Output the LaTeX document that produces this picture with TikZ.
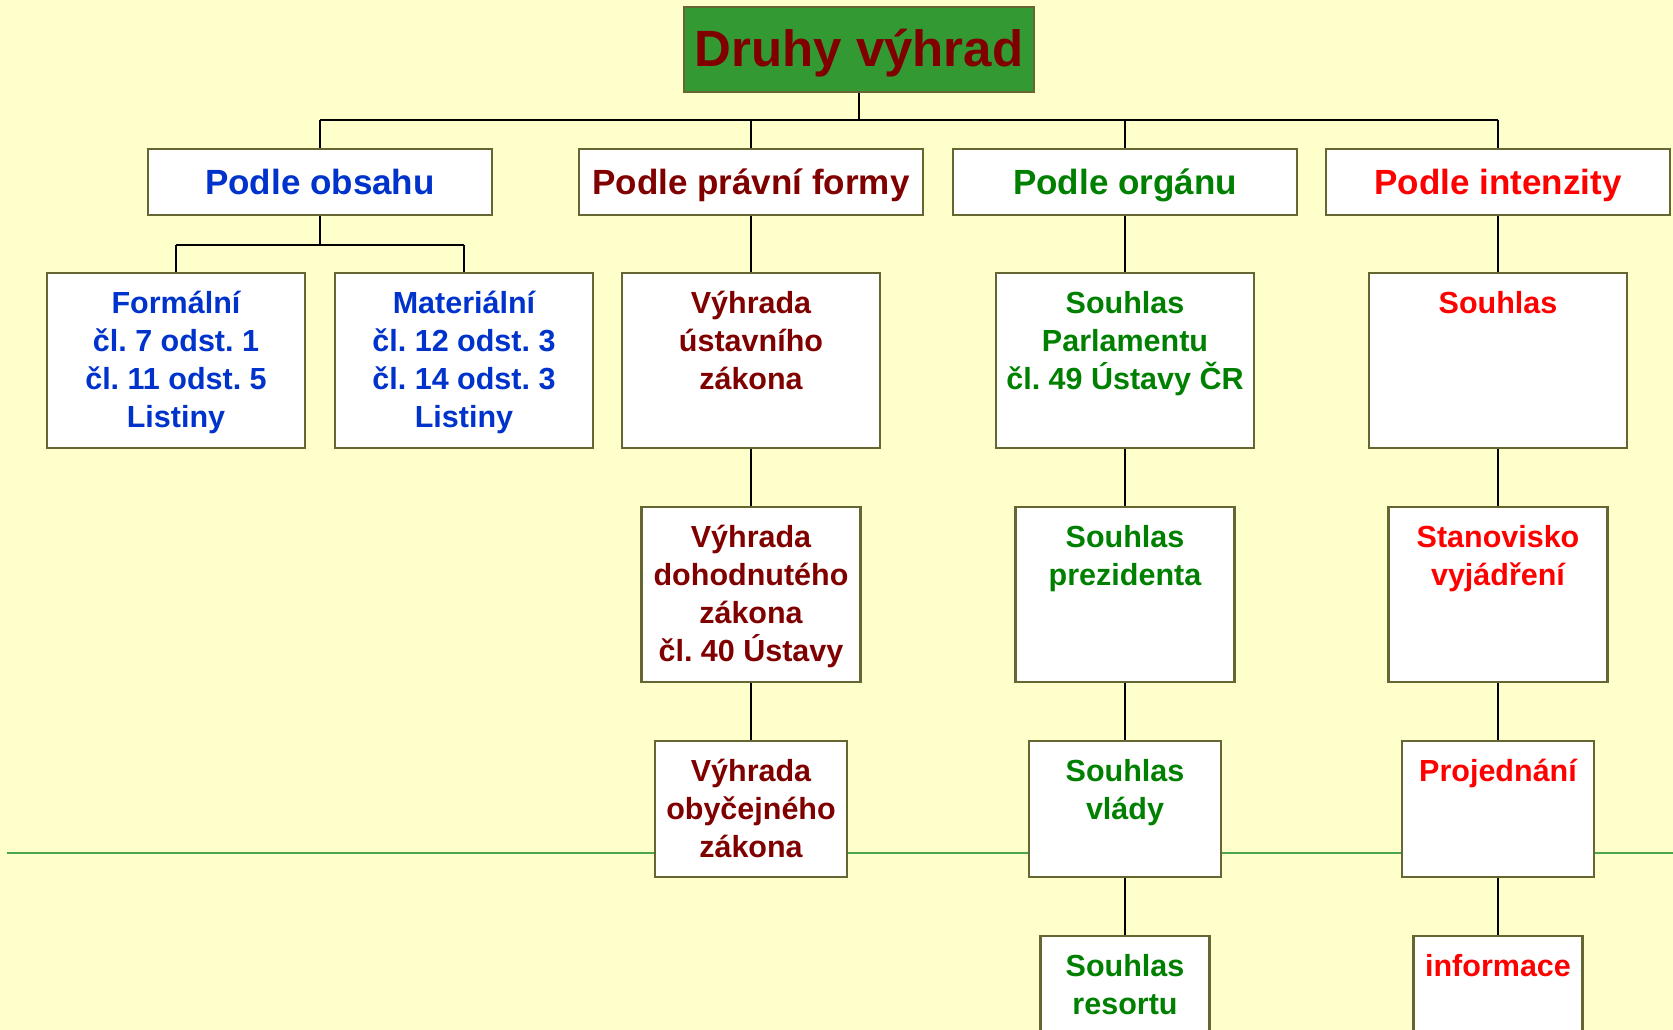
\documentclass[tikz,border=0pt]{standalone}
\usepackage{fontspec}
\setmainfont{Liberation Sans}
\frenchspacing
\definecolor{bg}{RGB}{255,255,204}
\definecolor{olv}{RGB}{102,102,51}
\definecolor{ttl}{RGB}{51,153,51}
\definecolor{dred}{RGB}{128,0,0}
\definecolor{cblue}{RGB}{0,51,204}
\definecolor{cgreen}{RGB}{0,128,0}
\definecolor{cred}{RGB}{255,0,0}
\definecolor{gline}{RGB}{76,166,76}
\pgfdeclarelayer{bglayer}
\pgfdeclarelayer{connlayer}
\pgfsetlayers{bglayer,connlayer,main}
\newcommand\bx[7]{\node[bx,text=#6] (#1) at (#2,#3) {\parbox[t][#5pt][t]{#4pt}{\centering\frenchspacing\rule{0pt}{40pt}#7}};}
\begin{document}
\begin{tikzpicture}[x=1pt,y=-1pt,
  bx/.style={draw=olv,fill=white,line width=2.5pt,inner sep=0pt,outer sep=0pt,anchor=north,
    font=\fontsize{30.5}{38}\selectfont\bfseries},
  hd/.style={draw=olv,fill=white,line width=2.5pt,inner sep=0pt,outer sep=0pt,anchor=north,
    minimum width=344pt,minimum height=66pt,text height=25pt,text depth=0pt,
    font=\fontsize{35}{40}\selectfont\bfseries},
  ttlbox/.style={draw=olv,fill=ttl,line width=2.5pt,inner sep=0pt,outer sep=0pt,anchor=north,
    minimum width=350pt,minimum height=85pt,text height=35pt,text depth=0pt,
    font=\fontsize{51}{58}\selectfont\bfseries,text=dred},
  conn/.style={line width=2pt,black},
  bus/.style={line width=2.6pt,black}]
\useasboundingbox (0,0) rectangle (1673,1030);
\clip (0,0) rectangle (1673,1030);

\coordinate (busy) at (0,120);
\coordinate (suby) at (0,245);
\coordinate (gl) at (7,853);
\coordinate (gr) at (1673,853);

\begin{pgfonlayer}{bglayer}
\fill[bg] (0,0) rectangle (1673,1030);
\draw[gline,line width=2pt] (gl) -- (gr);
\end{pgfonlayer}

\node[ttlbox] (title) at (859,7) {Druhy výhrad};
\node[hd,text=cblue] (obsah) at (320,149) {Podle obsahu};
\node[hd,text=dred] (forma) at (751,149) {Podle právní formy};
\node[hd,text=cgreen] (organ) at (1125,149) {Podle orgánu};
\node[hd,text=cred] (intenz) at (1498,149) {Podle intenzity};

\bx{formal}{176}{273}{258}{175}{cblue}{Formální\\čl. 7 odst. 1\\čl. 11 odst. 5\\Listiny}
\bx{mater}{464}{273}{258}{175}{cblue}{Materiální\\čl. 12 odst. 3\\čl. 14 odst. 3\\Listiny}
\bx{ustav}{751}{273}{258}{175}{dred}{Výhrada\\ústavního\\zákona}
\bx{parl}{1125}{273}{258}{175}{cgreen}{Souhlas\\Parlamentu\\čl. 49 Ústavy ČR}
\bx{souhl}{1498}{273}{258}{175}{cred}{Souhlas}

\bx{dohod}{751}{507}{219}{175}{dred}{Výhrada\\dohodnutého\\zákona\\čl. 40 Ústavy}
\bx{prez}{1125}{507}{219}{175}{cgreen}{Souhlas\\prezidenta}
\bx{stano}{1498}{507}{219}{175}{cred}{Stanovisko\\vyjádření}

\bx{obyc}{751}{741}{192}{136}{dred}{Výhrada\\obyčejného\\zákona}
\bx{vlada}{1125}{741}{192}{136}{cgreen}{Souhlas\\vlády}
\bx{proj}{1498}{741}{192}{136}{cred}{Projednání}

\bx{resort}{1125}{936}{169}{136}{cgreen}{Souhlas\\resortu}
\bx{info}{1498}{936}{169}{136}{cred}{informace}

\begin{pgfonlayer}{connlayer}
\draw[conn] (title.south) -- (title.south |- busy);
\draw[bus] (obsah.north |- busy) -- (intenz.north |- busy);
\foreach \n in {obsah,forma,organ,intenz} \draw[conn] (\n.north |- busy) -- (\n.north);
\draw[conn] (obsah.south) -- (obsah.south |- suby);
\draw[bus] (formal.north |- suby) -- (mater.north |- suby);
\foreach \n in {formal,mater} \draw[conn] (\n.north |- suby) -- (\n.north);
\draw[conn] (forma.south) -- (ustav.north);
\draw[conn] (ustav.south) -- (dohod.north);
\draw[conn] (dohod.south) -- (obyc.north);
\draw[conn] (organ.south) -- (parl.north);
\draw[conn] (parl.south) -- (prez.north);
\draw[conn] (prez.south) -- (vlada.north);
\draw[conn] (vlada.south) -- (resort.north);
\draw[conn] (intenz.south) -- (souhl.north);
\draw[conn] (souhl.south) -- (stano.north);
\draw[conn] (stano.south) -- (proj.north);
\draw[conn] (proj.south) -- (info.north);
\end{pgfonlayer}
\end{tikzpicture}
\end{document}
